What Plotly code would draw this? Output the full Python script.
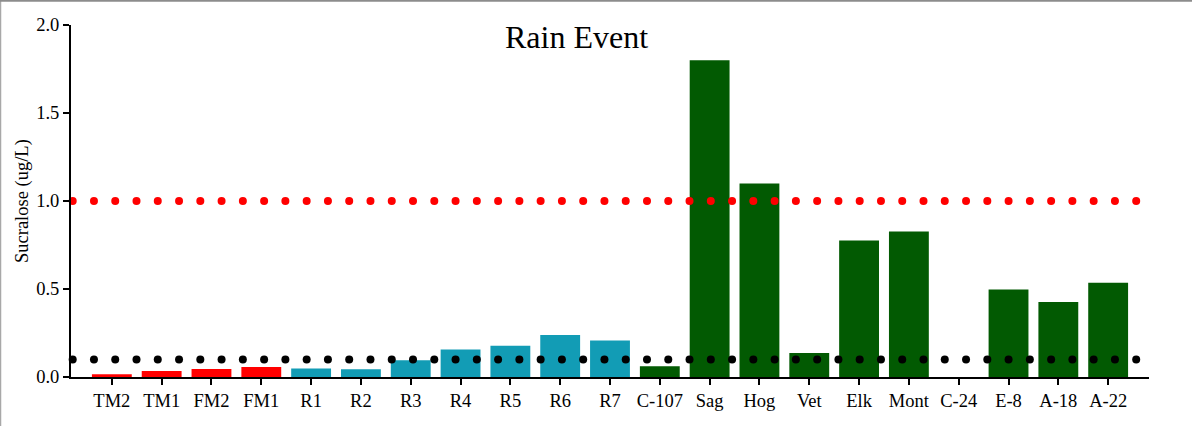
import numpy as np
import plotly.graph_objects as go

categories = ["TM2", "TM1", "FM2", "FM1", "R1", "R2", "R3", "R4", "R5", "R6", "R7",
              "C-107", "Sag", "Hog", "Vet", "Elk", "Mont", "C-24", "E-8", "A-18", "A-22"]
values = [0.015, 0.034, 0.046, 0.057, 0.049, 0.044, 0.095, 0.156, 0.177, 0.238, 0.207,
          0.061, 1.80, 1.10, 0.137, 0.775, 0.826, 0.0, 0.497, 0.426, 0.536]
groups = ["red"] * 4 + ["teal"] * 7 + ["green"] * 10
upper_limit = 1.0
lower_limit = 0.1
y_ticks = [0.0, 0.5, 1.0, 1.5, 2.0]

group_colors = {"red": "#FF0000", "teal": "#129CB5", "green": "#025A02"}

W, H = 1192, 426
ML, MR, MT, MB = 71, 43, 25, 49
PW, PH = W - ML - MR, H - MT - MB

x = np.arange(len(categories))
x_range = [-0.82, len(categories) - 1 + 0.82]

fig = go.Figure()
fig.add_trace(go.Bar(
    x=x, y=values, width=0.8,
    marker=dict(color=[group_colors[g] for g in groups], line=dict(width=0)),
    showlegend=False,
))

# dotted reference lines
dots_x = np.linspace(-0.786, 20.563, 51)
for level, col in [(upper_limit, "#FF0000"), (lower_limit, "#000000")]:
    fig.add_trace(go.Scatter(
        x=dots_x, y=[level] * len(dots_x), mode="markers",
        marker=dict(color=col, size=8, line=dict(width=0)),
        showlegend=False, cliponaxis=False, hoverinfo="skip",
    ))

font_family = "Liberation Serif, Times New Roman, serif"

fig.update_layout(
    width=W, height=H,
    margin=dict(l=ML, r=MR, t=MT, b=MB, pad=0),
    paper_bgcolor="white", plot_bgcolor="white",
    font=dict(family=font_family, color="black", size=18),
    bargap=0.2,
    xaxis=dict(
        range=x_range, tickmode="array", tickvals=x, ticktext=categories,
        showline=True, linecolor="black", linewidth=2,
        ticks="outside", ticklen=6, tickwidth=2, tickcolor="black",
        showgrid=False, zeroline=False, tickfont=dict(size=18.5),
    ),
    yaxis=dict(
        range=[0, 2.0], tickmode="array", tickvals=y_ticks,
        ticktext=[f"{v:.1f}" for v in y_ticks],
        showline=True, linecolor="black", linewidth=2,
        ticks="outside", ticklen=6, tickwidth=2, tickcolor="black",
        showgrid=False, zeroline=False, tickfont=dict(size=18.5),
    ),
    annotations=[
        dict(text="Rain Event", xref="paper", yref="paper",
             x=(576.7 - ML) / PW, y=(H - MB - 37) / PH,
             xanchor="center", yanchor="middle", showarrow=False,
             font=dict(size=32, family=font_family, color="black")),
        dict(text="Sucralose (ug/L)", xref="paper", yref="paper",
             x=(22 - ML) / PW, y=(H - MB - 201) / PH, textangle=-90,
             xanchor="center", yanchor="middle", showarrow=False,
             font=dict(size=18.5, family=font_family, color="black")),
    ],
    shapes=[
        dict(type="line", xref="paper", yref="paper",
             x0=(0.5 - ML) / PW, x1=(0.5 - ML) / PW,
             y0=-MB / PH, y1=(PH + MT) / PH,
             line=dict(color="#A8A8A8", width=1.5)),
        dict(type="line", xref="paper", yref="paper",
             x0=-ML / PW, x1=(PW + MR) / PW,
             y0=(PH + MT - 0.8) / PH, y1=(PH + MT - 0.8) / PH,
             line=dict(color="#8C8C8C", width=2)),
    ],
)

fig.write_html("out.html",
               config={"displayModeBar": False},
               post_script="document.body.style.margin='0';document.body.style.overflow='hidden';")
